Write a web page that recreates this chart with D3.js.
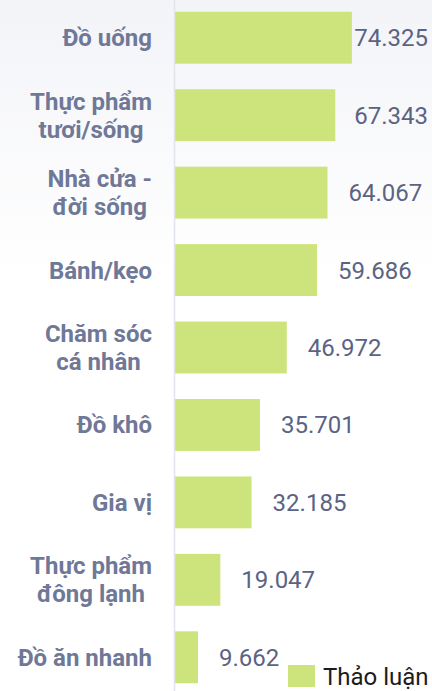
<!DOCTYPE html>
<html>
<head>
<meta charset="utf-8">
<script src="https://cdn.jsdelivr.net/npm/d3@7"></script>
<style>
  html, body { margin: 0; padding: 0; background: #fff; }
  svg { display: block; font-family: Roboto, "Noto Sans", sans-serif; }
</style>
</head>
<body>
<svg id="chart" width="432" height="691"></svg>
<script>
// Category labels (line breaks as shown on the axis)
const categories = [
  "Đồ uống",
  "Thực phẩm\ntươi/sống",
  "Nhà cửa -\nđời sống",
  "Bánh/kẹo",
  "Chăm sóc\ncá nhân",
  "Đồ khô",
  "Gia vị",
  "Thực phẩm\nđông lạnh",
  "Đồ ăn nhanh"
];
// Discussion volume per category
const values = [74.325, 67.343, 64.067, 59.686, 46.972, 35.701, 32.185, 19.047, 9.662];
const seriesName = "Thảo luận";

const W = 432, H = 691;
const axisX = 175, labelRight = 152;
const barColor = "#cde47c";

const svg = d3.select("#chart");

// soft vertical background wash
const defs = svg.append("defs");
const grad = defs.append("linearGradient").attr("id", "bg").attr("x1", 0).attr("y1", 0).attr("x2", 0).attr("y2", 1);
grad.append("stop").attr("offset", "0%").attr("stop-color", "#f3f4f8");
grad.append("stop").attr("offset", "40%").attr("stop-color", "#ffffff");
svg.append("rect").attr("width", W).attr("height", H).attr("fill", "url(#bg)");

const x = d3.scaleLinear().domain([0, 100]).range([axisX, axisX + 238]);
const y = d3.scaleBand().domain(categories).range([-1, 696]).paddingInner(0.33).paddingOuter(0.165);

// bars
svg.append("g").selectAll("rect")
  .data(categories)
  .join("rect")
  .attr("x", x(0))
  .attr("y", d => y(d))
  .attr("width", (d, i) => x(values[i]) - x(0))
  .attr("height", y.bandwidth())
  .attr("fill", barColor);

// vertical axis line
svg.append("line")
  .attr("x1", axisX - 0.5).attr("x2", axisX - 0.5)
  .attr("y1", 0).attr("y2", H)
  .attr("stroke", "#e1e4eb").attr("stroke-width", 1.5);

// category labels: block right-aligned, lines centred within the block
const catG = svg.append("g");
categories.forEach(c => {
  const lines = c.split("\n");
  const cy = y(c) + y.bandwidth() / 2;
  const lh = 28;
  const t = catG.append("text")
    .attr("font-size", 24).attr("font-weight", 700).attr("fill", "#6f7897")
    .attr("text-anchor", "middle");
  const spans = lines.map((ln, k) => t.append("tspan")
    .attr("y", cy + 8.5 + (k - (lines.length - 1) / 2) * lh)
    .text(ln));
  const maxW = d3.max(spans, s => s.node().getComputedTextLength());
  spans.forEach(s => s.attr("x", labelRight - maxW / 2));
});

// value labels to the right of each bar, kept inside the chart
const valG = svg.append("g");
categories.forEach((c, i) => {
  const t = valG.append("text")
    .attr("font-size", 24).attr("fill", "#5b6383")
    .attr("y", y(c) + y.bandwidth() / 2 + 8.5)
    .text(d3.format(".3f")(values[i]));
  const w = t.node().getComputedTextLength();
  const tx = Math.min(x(values[i]) + 21, 428 - w);
  t.attr("x", tx);
});

// legend
const lg = svg.append("g");
lg.append("rect").attr("x", 288).attr("y", 665).attr("width", 27).attr("height", 22).attr("fill", barColor);
lg.append("text").attr("x", 323).attr("y", 685).attr("font-size", 24).attr("fill", "#1c1c1c").text(seriesName);
</script>
</body>
</html>
